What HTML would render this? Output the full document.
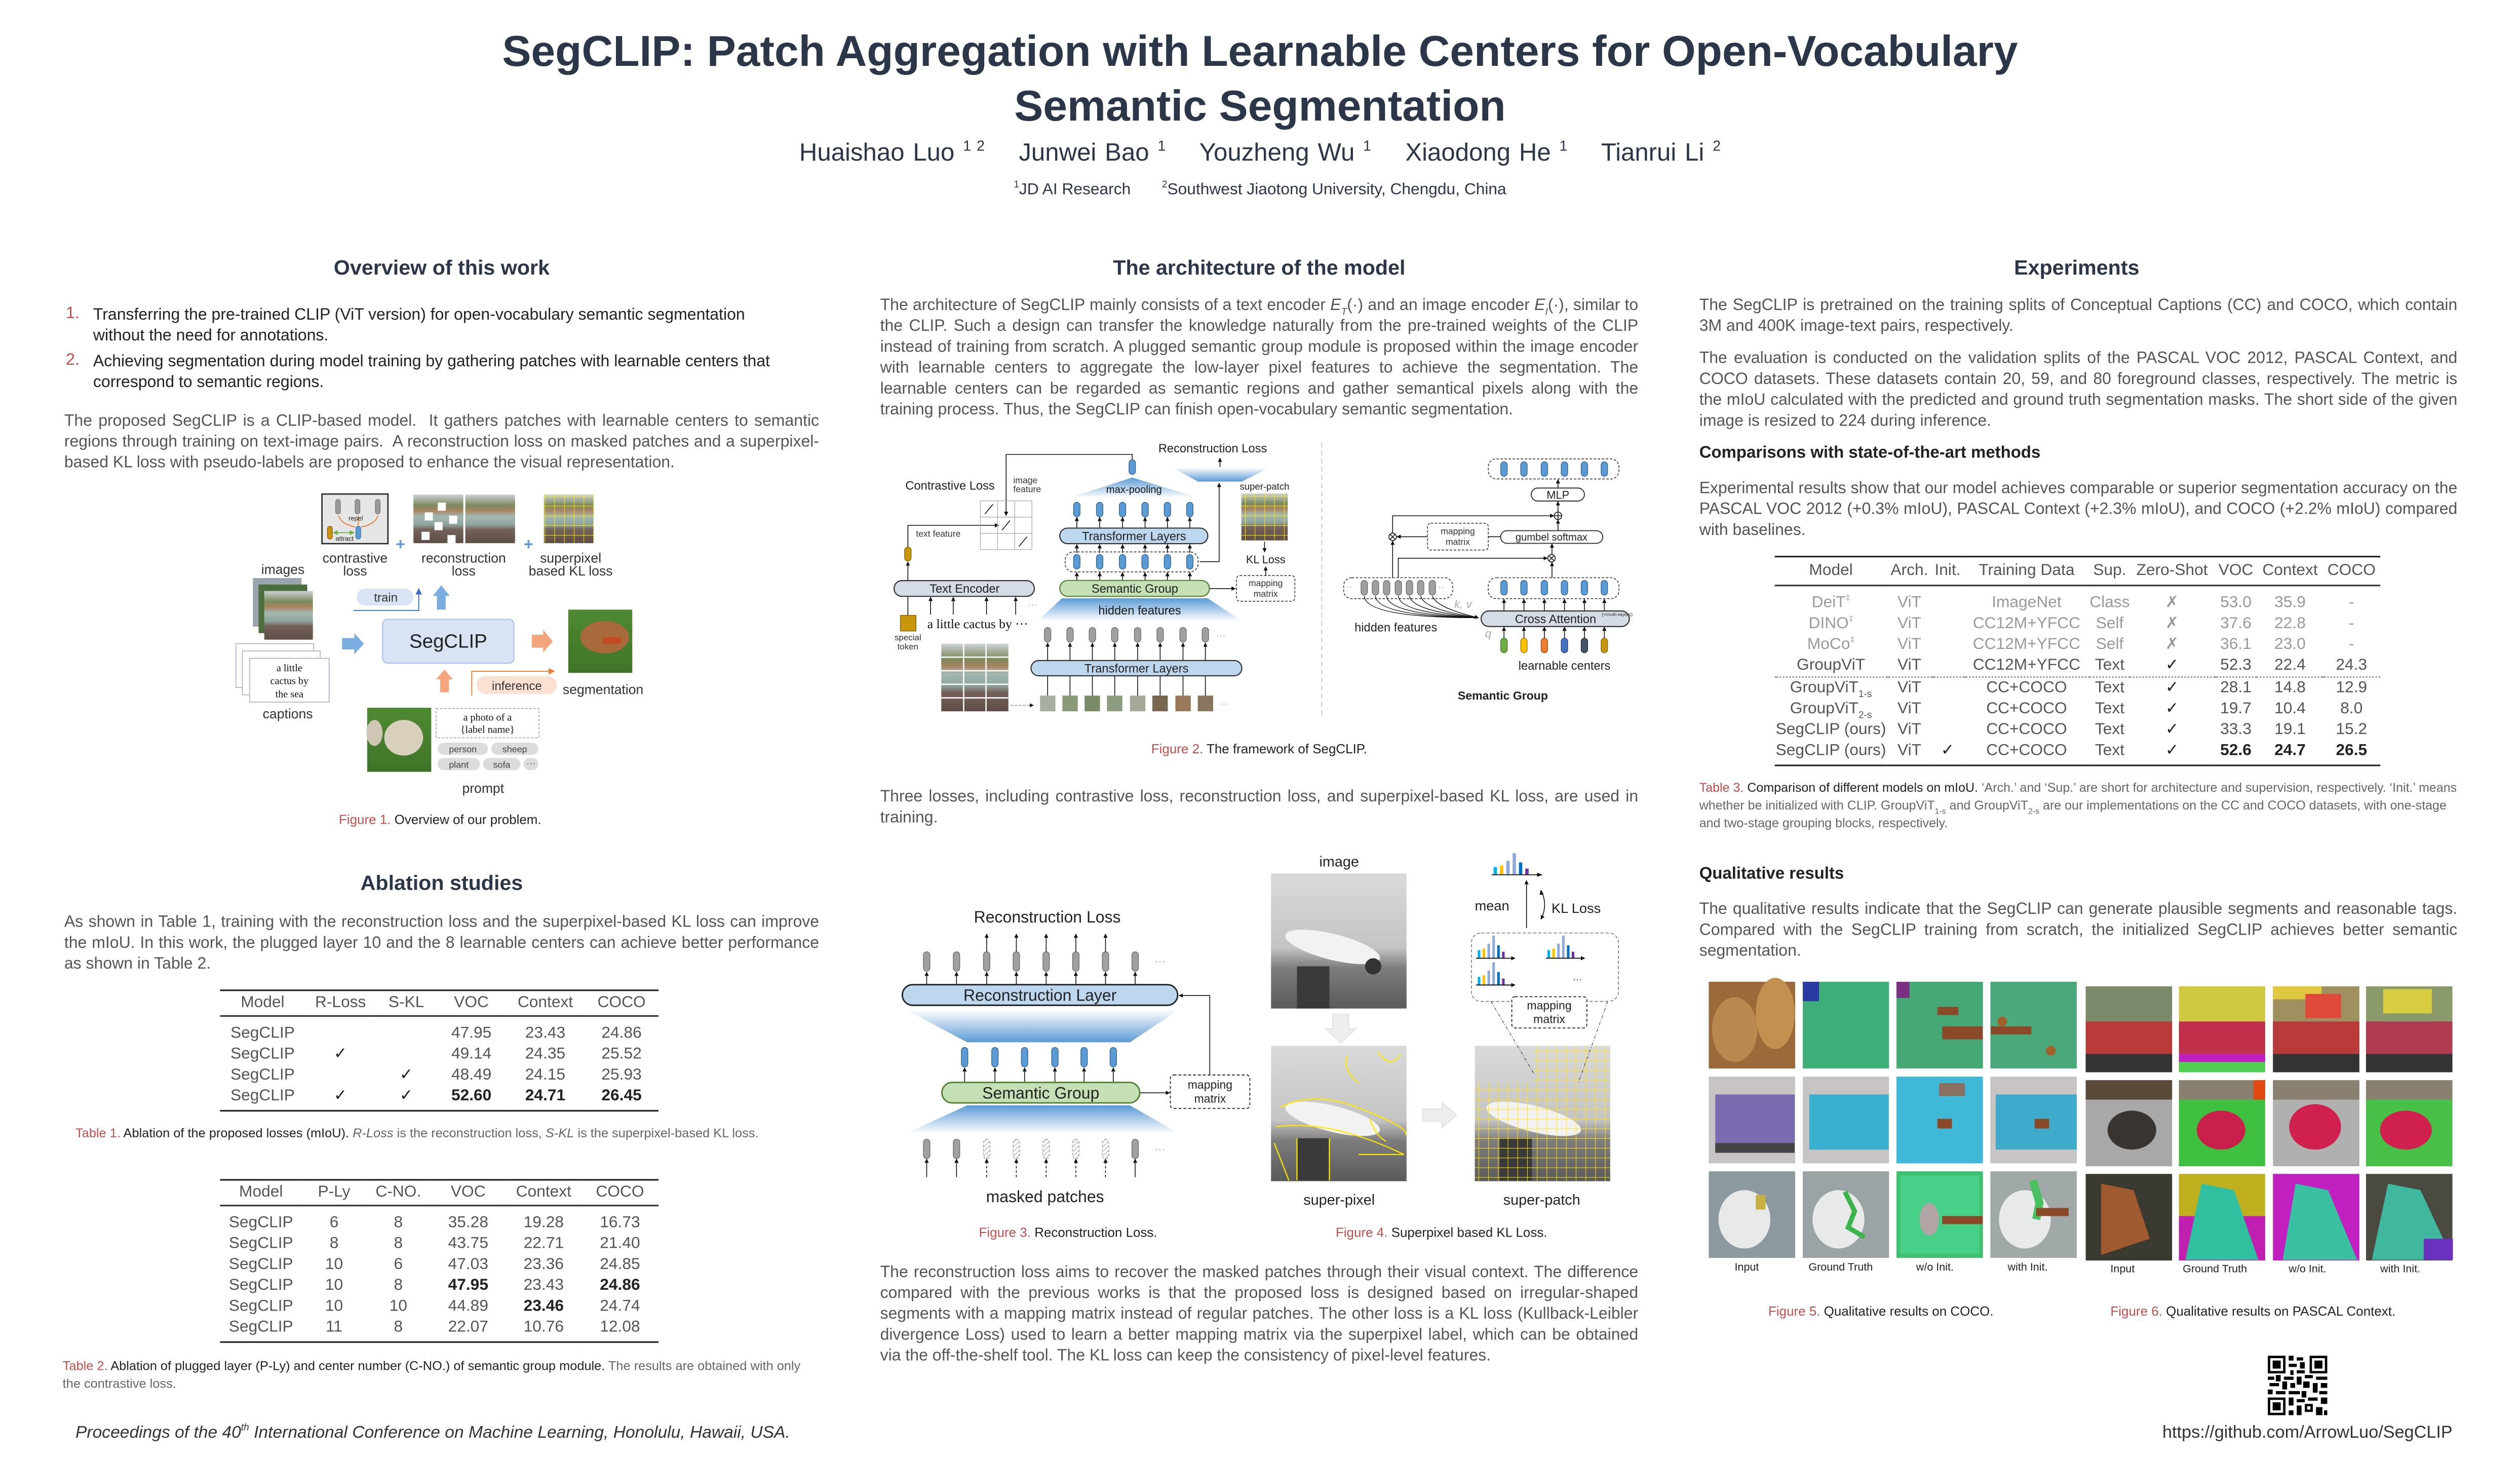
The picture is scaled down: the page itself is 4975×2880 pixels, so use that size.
<!DOCTYPE html>
<html><head><meta charset="utf-8"><style>
html,body{margin:0;padding:0;background:#fff;overflow:hidden;width:4975px;height:2880px}
#c{position:absolute;left:0;top:0;width:1569px;height:908px;transform:scale(3.1708);transform-origin:0 0;font-family:"Liberation Sans",sans-serif;color:#555}
sup,sub{line-height:0}
.a{position:absolute;white-space:nowrap}
.h{position:absolute;font-weight:bold;color:#2b3648;font-size:13px;text-align:center;width:400px;line-height:16px}
.p{position:absolute;font-size:10.1px;line-height:13.1px;color:#555;text-align:justify}
.cap{position:absolute;font-size:8.2px;line-height:11px;color:#666}
.r{color:#c0504d}.k{color:#222}
table{position:absolute;border-collapse:collapse;font-size:10px;color:#555}
td{text-align:center;padding:0;height:13px;line-height:13px;white-space:nowrap}
tr.hd td{height:15px;border-top:1.4px solid #222;border-bottom:1px solid #333}
tr.sp td{height:4px;line-height:4px}
tr.ep td{height:2px;line-height:2px;border-bottom:1.4px solid #222}
b.n{color:#222}
</style></head><body><div id="c">

<div class="a" style="left:0;width:1569px;text-align:center;top:15px;font-size:27px;font-weight:bold;color:#2b3648;line-height:34px">SegCLIP: Patch Aggregation with Learnable Centers for Open-Vocabulary<br>Semantic Segmentation</div>
<div class="a" style="left:0;width:1569px;text-align:center;top:87px;font-size:15.5px;color:#2b3648;word-spacing:1px">Huaishao Luo <sup style="font-size:9px">1 2</sup>&nbsp;&nbsp;&nbsp; Junwei Bao <sup style="font-size:9px">1</sup>&nbsp;&nbsp;&nbsp; Youzheng Wu <sup style="font-size:9px">1</sup>&nbsp;&nbsp;&nbsp; Xiaodong He <sup style="font-size:9px">1</sup>&nbsp;&nbsp;&nbsp; Tianrui Li <sup style="font-size:9px">2</sup></div>
<div class="a" style="left:0;width:1569px;text-align:center;top:113px;font-size:10px;color:#2b3648"><sup style="font-size:6px">1</sup>JD AI Research &nbsp;&nbsp;&nbsp;&nbsp;&nbsp; <sup style="font-size:6px">2</sup>Southwest Jiaotong University, Chengdu, China</div>

<div class="h" style="left:75px;top:159px">Overview of this work</div>
<div class="h" style="left:584px;top:159px">The architecture of the model</div>
<div class="h" style="left:1093px;top:159px">Experiments</div>

<!-- left column -->
<div class="a r" style="left:41px;top:190px;font-size:10.2px">1.</div>
<div class="p k" style="left:58px;top:189.5px;width:452px;text-align:left;color:#222">Transferring the pre-trained CLIP (ViT version) for open-vocabulary semantic segmentation<br>without the need for annotations.</div>
<div class="a r" style="left:41px;top:219px;font-size:10.2px">2.</div>
<div class="p k" style="left:58px;top:218.5px;width:452px;text-align:left;color:#222">Achieving segmentation during model training by gathering patches with learnable centers that<br>correspond to semantic regions.</div>
<div class="p" style="left:40px;top:255.5px;width:470px">The proposed SegCLIP is a CLIP-based model.&nbsp; It gathers patches with learnable centers to semantic regions through training on text-image pairs.&nbsp; A reconstruction loss on masked patches and a superpixel-based KL loss with pseudo-labels are proposed to enhance the visual representation.</div>
<div class="cap" style="left:0;width:548px;text-align:center;top:505px"><span class="r">Figure 1.</span> <span class="k">Overview of our problem.</span></div>

<div class="h" style="left:75px;top:542px">Ablation studies</div>
<div class="p" style="left:40px;top:567.5px;width:470px">As shown in Table 1, training with the reconstruction loss and the superpixel-based KL loss can improve the mIoU. In this work, the plugged layer 10 and the 8 learnable centers can achieve better performance as shown in Table 2.</div>

<table style="left:137px;top:616px;width:273px">
<colgroup><col style="width:53px"><col style="width:44px"><col style="width:38px"><col style="width:43px"><col style="width:49px"><col style="width:46px"></colgroup>
<tr class="hd"><td>Model</td><td>R-Loss</td><td>S-KL</td><td>VOC</td><td>Context</td><td>COCO</td></tr>
<tr class="sp"><td colspan="6"></td></tr>
<tr><td>SegCLIP</td><td></td><td></td><td>47.95</td><td>23.43</td><td>24.86</td></tr>
<tr><td>SegCLIP</td><td class="k">✓</td><td></td><td>49.14</td><td>24.35</td><td>25.52</td></tr>
<tr><td>SegCLIP</td><td></td><td class="k">✓</td><td>48.49</td><td>24.15</td><td>25.93</td></tr>
<tr><td>SegCLIP</td><td class="k">✓</td><td class="k">✓</td><td><b class="n">52.60</b></td><td><b class="n">24.71</b></td><td><b class="n">26.45</b></td></tr>
<tr class="ep"><td colspan="6"></td></tr>
</table>
<div class="cap" style="left:47px;top:700px;font-size:8px"><span class="r">Table 1.</span> <span class="k">Ablation of the proposed losses (mIoU).</span> <i>R-Loss</i> is the reconstruction loss, <i>S-KL</i> is the superpixel-based KL loss.</div>

<table style="left:137px;top:734px;width:273px">
<colgroup><col style="width:51px"><col style="width:40px"><col style="width:40px"><col style="width:47px"><col style="width:47px"><col style="width:48px"></colgroup>
<tr class="hd"><td>Model</td><td>P-Ly</td><td>C-NO.</td><td>VOC</td><td>Context</td><td>COCO</td></tr>
<tr class="sp"><td colspan="6"></td></tr>
<tr><td>SegCLIP</td><td>6</td><td>8</td><td>35.28</td><td>19.28</td><td>16.73</td></tr>
<tr><td>SegCLIP</td><td>8</td><td>8</td><td>43.75</td><td>22.71</td><td>21.40</td></tr>
<tr><td>SegCLIP</td><td>10</td><td>6</td><td>47.03</td><td>23.36</td><td>24.85</td></tr>
<tr><td>SegCLIP</td><td>10</td><td>8</td><td><b class="n">47.95</b></td><td>23.43</td><td><b class="n">24.86</b></td></tr>
<tr><td>SegCLIP</td><td>10</td><td>10</td><td>44.89</td><td><b class="n">23.46</b></td><td>24.74</td></tr>
<tr><td>SegCLIP</td><td>11</td><td>8</td><td>22.07</td><td>10.76</td><td>12.08</td></tr>
<tr class="ep"><td colspan="6"></td></tr>
</table>
<div class="cap" style="left:39px;top:845px;width:472px;font-size:8px"><span class="r">Table 2.</span> <span class="k">Ablation of plugged layer (P-Ly) and center number (C-NO.) of semantic group module.</span> The results are obtained with only the contrastive loss.</div>

<div class="a" style="left:47px;top:886px;font-size:10.6px;font-style:italic;color:#333">Proceedings of the 40<sup style="font-size:6px">th</sup> International Conference on Machine Learning, Honolulu, Hawaii, USA.</div>

<!-- middle column -->
<div class="p" style="left:548px;top:183.5px;width:472px">The architecture of SegCLIP mainly consists of a text encoder <i>E<sub style="font-size:6px">T</sub></i>(·) and an image encoder <i>E<sub style="font-size:6px">I</sub></i>(·), similar to the CLIP. Such a design can transfer the knowledge naturally from the pre-trained weights of the CLIP instead of training from scratch. A plugged semantic group module is proposed within the image encoder with learnable centers to aggregate the low-layer pixel features to achieve the segmentation. The learnable centers can be regarded as semantic regions and gather semantical pixels along with the training process. Thus, the SegCLIP can finish open-vocabulary semantic segmentation.</div>
<div class="cap" style="left:548px;width:472px;text-align:center;top:461px"><span class="r">Figure 2.</span> <span class="k">The framework of SegCLIP.</span></div>
<div class="p" style="left:548px;top:489.5px;width:472px">Three losses, including contrastive loss, reconstruction loss, and superpixel-based KL loss, are used in training.</div>
<div class="cap" style="left:560px;width:210px;text-align:center;top:762px"><span class="r">Figure 3.</span> <span class="k">Reconstruction Loss.</span></div>
<div class="cap" style="left:790px;width:215px;text-align:center;top:762px"><span class="r">Figure 4.</span> <span class="k">Superpixel based KL Loss.</span></div>
<div class="p" style="left:548px;top:785.5px;width:472px">The reconstruction loss aims to recover the masked patches through their visual context. The difference compared with the previous works is that the proposed loss is designed based on irregular-shaped segments with a mapping matrix instead of regular patches. The other loss is a KL loss (Kullback-Leibler divergence Loss) used to learn a better mapping matrix via the superpixel label, which can be obtained via the off-the-shelf tool. The KL loss can keep the consistency of pixel-level features.</div>

<!-- right column -->
<div class="p" style="left:1058px;top:183.5px;width:472px">The SegCLIP is pretrained on the training splits of Conceptual Captions (CC) and COCO, which contain 3M and 400K image-text pairs, respectively.</div>
<div class="p" style="left:1058px;top:216.5px;width:472px">The evaluation is conducted on the validation splits of the PASCAL VOC 2012, PASCAL Context, and COCO datasets. These datasets contain 20, 59, and 80 foreground classes, respectively. The metric is the mIoU calculated with the predicted and ground truth segmentation masks. The short side of the given image is resized to 224 during inference.</div>
<div class="a" style="left:1058px;top:277px;font-size:10.4px;font-weight:bold;color:#222">Comparisons with state-of-the-art methods</div>
<div class="p" style="left:1058px;top:297.5px;width:472px">Experimental results show that our model achieves comparable or superior segmentation accuracy on the PASCAL VOC 2012 (+0.3% mIoU), PASCAL Context (+2.3% mIoU), and COCO (+2.2% mIoU) compared with baselines.</div>

<table style="left:1105px;top:346px;width:377px">
<colgroup><col style="width:70px"><col style="width:28px"><col style="width:20px"><col style="width:79px"><col style="width:23px"><col style="width:53px"><col style="width:27px"><col style="width:41px"><col style="width:36px"></colgroup>
<tr class="hd"><td style="height:17px">Model</td><td>Arch.</td><td>Init.</td><td>Training Data</td><td>Sup.</td><td>Zero-Shot</td><td>VOC</td><td>Context</td><td>COCO</td></tr>
<tr class="sp"><td colspan="9"></td></tr>
<tr style="color:#999"><td>DeiT<sup style="font-size:5px">‡</sup></td><td>ViT</td><td></td><td>ImageNet</td><td>Class</td><td>✗</td><td>53.0</td><td>35.9</td><td>-</td></tr>
<tr style="color:#999"><td>DINO<sup style="font-size:5px">‡</sup></td><td>ViT</td><td></td><td>CC12M+YFCC</td><td>Self</td><td>✗</td><td>37.6</td><td>22.8</td><td>-</td></tr>
<tr style="color:#999"><td>MoCo<sup style="font-size:5px">‡</sup></td><td>ViT</td><td></td><td>CC12M+YFCC</td><td>Self</td><td>✗</td><td>36.1</td><td>23.0</td><td>-</td></tr>
<tr style="border-bottom:1px dotted #999"><td>GroupViT</td><td>ViT</td><td></td><td>CC12M+YFCC</td><td>Text</td><td class="k">✓</td><td>52.3</td><td>22.4</td><td>24.3</td></tr>
<tr><td>GroupViT<sub style="font-size:6px">1-s</sub></td><td>ViT</td><td></td><td>CC+COCO</td><td>Text</td><td class="k">✓</td><td>28.1</td><td>14.8</td><td>12.9</td></tr>
<tr><td>GroupViT<sub style="font-size:6px">2-s</sub></td><td>ViT</td><td></td><td>CC+COCO</td><td>Text</td><td class="k">✓</td><td>19.7</td><td>10.4</td><td>8.0</td></tr>
<tr><td>SegCLIP (ours)</td><td>ViT</td><td></td><td>CC+COCO</td><td>Text</td><td class="k">✓</td><td>33.3</td><td>19.1</td><td>15.2</td></tr>
<tr><td>SegCLIP (ours)</td><td>ViT</td><td class="k">✓</td><td>CC+COCO</td><td>Text</td><td class="k">✓</td><td><b class="n">52.6</b></td><td><b class="n">24.7</b></td><td><b class="n">26.5</b></td></tr>
<tr class="ep"><td colspan="9"></td></tr>
</table>
<div class="cap" style="left:1058px;top:484.5px;width:472px;font-size:7.9px"><span class="r">Table 3.</span> <span class="k">Comparison of different models on mIoU.</span> ‘Arch.’ and ‘Sup.’ are short for architecture and supervision, respectively. ‘Init.’ means whether be initialized with CLIP. GroupViT<sub style="font-size:5px">1-s</sub> and GroupViT<sub style="font-size:5px">2-s</sub> are our implementations on the CC and COCO datasets, with one-stage and two-stage grouping blocks, respectively.</div>
<div class="a" style="left:1058px;top:539px;font-size:10.4px;font-weight:bold;color:#222">Qualitative results</div>
<div class="p" style="left:1058px;top:559.5px;width:472px">The qualitative results indicate that the SegCLIP can generate plausible segments and reasonable tags. Compared with the SegCLIP training from scratch, the initialized SegCLIP achieves better semantic segmentation.</div>

<div class="a" style="top:786px;font-size:6.8px;color:#222;left:1080px">Input</div>
<div class="a" style="top:786px;font-size:6.8px;color:#222;left:1126px">Ground Truth</div>
<div class="a" style="top:786px;font-size:6.8px;color:#222;left:1193px">w/o Init.</div>
<div class="a" style="top:786px;font-size:6.8px;color:#222;left:1250px">with Init.</div>
<div class="a" style="top:787px;font-size:6.8px;color:#222;left:1314px">Input</div>
<div class="a" style="top:787px;font-size:6.8px;color:#222;left:1359px">Ground Truth</div>
<div class="a" style="top:787px;font-size:6.8px;color:#222;left:1425px">w/o Init.</div>
<div class="a" style="top:787px;font-size:6.8px;color:#222;left:1482px">with Init.</div>
<div class="cap" style="left:1101px;top:811px;font-size:8.2px"><span class="r">Figure 5.</span> <span class="k">Qualitative results on COCO.</span></div>
<div class="cap" style="left:1314px;top:811px;font-size:8.2px"><span class="r">Figure 6.</span> <span class="k">Qualitative results on PASCAL Context.</span></div>
<div class="a" style="right:42px;top:886px;font-size:10.8px;color:#333">https://github.com/ArrowLuo/SegCLIP</div>

<svg style="position:absolute;left:0;top:0" width="1569" height="908" viewBox="0 0 1569 908" font-family="Liberation Sans, sans-serif">
<defs>
<marker id="ah" viewBox="0 0 6 6" refX="5.5" refY="3" markerWidth="2.6" markerHeight="2.6" markerUnits="userSpaceOnUse" orient="auto"><path d="M0,0L6,3L0,6z" fill="#111"/></marker>
<marker id="ab" viewBox="0 0 6 6" refX="5.5" refY="3" markerWidth="4" markerHeight="4" markerUnits="userSpaceOnUse" orient="auto"><path d="M0,0L6,3L0,6z" fill="#3d6fc4"/></marker>
<marker id="ao" viewBox="0 0 6 6" refX="5.5" refY="3" markerWidth="4" markerHeight="4" markerUnits="userSpaceOnUse" orient="auto"><path d="M0,0L6,3L0,6z" fill="#ed7d31"/></marker>
<marker id="ag" viewBox="0 0 6 6" refX="5.5" refY="3" markerWidth="3" markerHeight="3" markerUnits="userSpaceOnUse" orient="auto-start-reverse"><path d="M0,0L6,3L0,6z" fill="#70ad47"/></marker>
<linearGradient id="gD" x1="0" y1="0" x2="0" y2="1"><stop offset="0" stop-color="#5b9bd5"/><stop offset="1" stop-color="#5b9bd5" stop-opacity="0"/></linearGradient>
<linearGradient id="gU" x1="0" y1="0" x2="0" y2="1"><stop offset="0" stop-color="#5b9bd5" stop-opacity="0"/><stop offset="1" stop-color="#5b9bd5"/></linearGradient>
<linearGradient id="sea" x1="0" y1="0" x2="0" y2="1"><stop offset="0" stop-color="#cdd2d6"/><stop offset=".22" stop-color="#7b8a5c"/><stop offset=".33" stop-color="#a88462"/><stop offset=".45" stop-color="#a3b8b0"/><stop offset=".62" stop-color="#8ea59e"/><stop offset=".72" stop-color="#75625a"/><stop offset="1" stop-color="#5d4e46"/></linearGradient>
<linearGradient id="pl" x1="0" y1="0" x2="0" y2="1"><stop offset="0" stop-color="#dadada"/><stop offset=".55" stop-color="#c4c4c4"/><stop offset=".7" stop-color="#7d7d7d"/><stop offset="1" stop-color="#5a5a5a"/></linearGradient>
<linearGradient id="grs" x1="0" y1="0" x2="0" y2="1"><stop offset="0" stop-color="#4e8a32"/><stop offset="1" stop-color="#3f7428"/></linearGradient>
<pattern id="ygrid" width="6" height="6" patternUnits="userSpaceOnUse"><path d="M0,0H6M0,0V6" stroke="#ffe800" stroke-width=".6" fill="none"/></pattern>
<pattern id="hatch" width="2" height="2" patternUnits="userSpaceOnUse" patternTransform="rotate(45)"><path d="M0,0V2" stroke="#999" stroke-width=".6"/></pattern>
<rect id="tb" x="-2" y="0" width="4" height="9" rx="2" fill="#5b9bd5" stroke="#2f5d8a" stroke-width=".4"/>
<rect id="tg" x="-2" y="0" width="4" height="9" rx="2" fill="#a0a0a0" stroke="#666" stroke-width=".4"/>
<rect id="tb12" x="-2" y="0" width="4" height="12" rx="2" fill="#5b9bd5" stroke="#2f5d8a" stroke-width=".4"/>
<rect id="tg12" x="-2" y="0" width="4" height="12" rx="2" fill="#a0a0a0" stroke="#666" stroke-width=".4"/>
<rect id="th12" x="-2" y="0" width="4" height="12" rx="2" fill="url(#hatch)" stroke="#999" stroke-width=".4" stroke-dasharray="1.5,1"/>
<g id="hist"><rect x="1" y="-5" width="1.6" height="5" fill="#00b0f0"/><rect x="4" y="-6" width="1.6" height="6" fill="#ffc000"/><rect x="7" y="-9" width="1.6" height="9" fill="#8faadc"/><rect x="10" y="-14" width="1.6" height="14" fill="#8faadc"/><rect x="13" y="-8" width="1.6" height="8" fill="#0070c0"/><rect x="16" y="-4" width="1.6" height="4" fill="#7030a0"/><line x1="0" y1="0" x2="24" y2="0" stroke="#111" stroke-width=".6" marker-end="url(#ah)"/></g>
</defs>

<g transform="scale(1.0094)">
<!-- ===== FIGURE 1 ===== -->
<rect x="198.6" y="304.7" width="40.7" height="30.6" fill="#e6e6e6" stroke="#222" stroke-width=".8"/>
<rect x="207" y="308" width="3" height="9" rx="1.5" fill="#999" stroke="#666" stroke-width=".3"/>
<rect x="219" y="308" width="3" height="9" rx="1.5" fill="#999" stroke="#666" stroke-width=".3"/>
<rect x="231.5" y="308" width="3" height="9" rx="1.5" fill="#999" stroke="#666" stroke-width=".3"/>
<rect x="219.5" y="324.5" width="3" height="8" rx="1.5" fill="#5b9bd5" stroke="#2f5d8a" stroke-width=".3"/>
<rect x="202" y="324.5" width="3" height="8" rx="1.5" fill="#c8960c" stroke="#7f3f00" stroke-width=".3"/>
<path d="M219,325 Q210,323 209,318 M221,324 V318 M223,325 Q232,323 233,318" stroke="#ed7d31" stroke-width=".6" fill="none"/>
<line x1="205.5" y1="328.5" x2="218.5" y2="328.5" stroke="#70ad47" stroke-width=".6" marker-end="url(#ag)" marker-start="url(#ag)"/>
<text x="215" y="321" font-size="4" fill="#222">repel</text><text x="207" y="333.5" font-size="4" fill="#222">attract</text>
<text x="247" y="339" font-size="10" font-weight="bold" fill="#5b9bd5" text-anchor="middle">+</text>
<text x="326" y="339" font-size="10" font-weight="bold" fill="#5b9bd5" text-anchor="middle">+</text>
<rect x="255" y="305" width="30.8" height="30" fill="url(#sea)"/>
<rect x="287" y="305" width="30.7" height="30" fill="url(#sea)"/>
<rect x="262" y="316" width="5" height="5" fill="#fff"/><rect x="270" y="310" width="5" height="5" fill="#fff"/><rect x="277" y="318" width="5" height="5" fill="#fff"/><rect x="268" y="322" width="5" height="5" fill="#fff"/><rect x="260" y="328" width="5" height="5" fill="#fff"/><rect x="276" y="330" width="5" height="5" fill="#fff"/>
<rect x="335.5" y="305" width="30.7" height="30" fill="url(#sea)"/>
<rect x="335.5" y="305" width="30.7" height="30" fill="url(#ygrid)"/>
<g font-size="8.3" fill="#333" text-anchor="middle">
<text x="219" y="347">contrastive</text><text x="219" y="355">loss</text>
<text x="286" y="347">reconstruction</text><text x="286" y="355">loss</text>
<text x="352" y="347">superpixel</text><text x="352" y="355">based KL loss</text>
<text x="174.5" y="354">images</text><text x="177.5" y="443">captions</text>
<text x="372" y="428">segmentation</text><text x="298" y="489">prompt</text>
</g>
<rect x="156" y="356.5" width="30" height="30" fill="#9aa4ac"/><rect x="159.5" y="360.5" width="30" height="30" fill="#4c6e3c"/><rect x="163" y="364.5" width="30" height="30" fill="url(#sea)"/>
<rect x="145.5" y="397" width="48" height="27" fill="#fff" stroke="#aac" stroke-width=".5"/><rect x="149.5" y="401.5" width="48" height="27" fill="#fff" stroke="#aac" stroke-width=".5"/><rect x="154" y="406" width="49" height="27" fill="#fff" stroke="#aac" stroke-width=".5"/>
<g font-family="Liberation Serif, serif" font-size="6.3" fill="#111" text-anchor="middle"><text x="178.5" y="414">a little</text><text x="178.5" y="422">cactus by</text><text x="178.5" y="430">the sea</text></g>
<path d="M211,393.5h7.5v-3l6,6.5l-6,6.5v-3h-7.5z" fill="#7aaee0"/>
<rect x="220" y="363" width="35" height="10.5" rx="5.2" fill="#dae3f3"/><text x="238" y="371" font-size="7.5" fill="#333" text-anchor="middle">train</text>
<path d="M218,376.5H258.3V363" stroke="#3d6fc4" stroke-width=".6" fill="none" marker-end="url(#ab)"/>
<path d="M269.5,376v-8.5h-2.5l5.2,-6.5l5.2,6.5h-2.5v8.5z" fill="#7aaee0"/>
<rect x="236" y="382" width="81" height="27" rx="3" fill="#dae3f3" stroke="#a9c4ea" stroke-width=".7"/>
<text x="276.5" y="399.5" font-size="12" fill="#222" text-anchor="middle">SegCLIP</text>
<path d="M328,391.5h7v-3l6,7l-6,7v-3h-7z" fill="#f4a57c"/>
<rect x="350.5" y="376" width="39.5" height="39" fill="url(#grs)"/>
<ellipse cx="373" cy="393" rx="15" ry="10" fill="#a86a3a"/><rect x="372" y="393" width="11" height="4" fill="#c54a20"/>
<rect x="294" y="417" width="49.6" height="11" rx="5.5" fill="#fbe1d3"/><text x="318.8" y="425.5" font-size="7.5" fill="#333" text-anchor="middle">inference</text>
<path d="M291,429V414H342" stroke="#ed7d31" stroke-width=".6" fill="none" marker-end="url(#ao)"/>
<path d="M271.5,427v-8h-2.5l5.2,-6l5.2,6h-2.5v8z" fill="#f4a57c"/>
<rect x="226.5" y="436.5" width="39.5" height="39.5" fill="url(#grs)"/>
<ellipse cx="249" cy="455" rx="12" ry="11" fill="#d8d0bc"/><ellipse cx="231" cy="452" rx="5" ry="8" fill="#cfc7b3"/>
<rect x="269" y="437" width="63.5" height="18" fill="none" stroke="#8fa6c8" stroke-width=".5" stroke-dasharray="1.5,1"/>
<g font-family="Liberation Serif, serif" font-size="6.3" fill="#111" text-anchor="middle"><text x="300.7" y="444.5">a photo of a</text><text x="300.7" y="452">{label name}</text></g>
<g fill="#dcdcdc"><rect x="270" y="458" width="31" height="7.5" rx="3.7"/><rect x="303" y="458" width="29" height="7.5" rx="3.7"/><rect x="270" y="467.5" width="26" height="7.5" rx="3.7"/><rect x="298" y="467.5" width="23" height="7.5" rx="3.7"/><rect x="323" y="467.5" width="9" height="7.5" rx="3.7"/></g>
<g font-size="5.6" fill="#444" text-anchor="middle"><text x="285.5" y="464">person</text><text x="317.5" y="464">sheep</text><text x="283" y="473.5">plant</text><text x="309.5" y="473.5">sofa</text><text x="327.5" y="472.5">···</text></g>

<!-- ===== FIGURE 2 ===== -->
<g font-size="7.4" fill="#222" text-anchor="middle">
<text x="748" y="279">Reconstruction Loss</text>
<text x="586" y="302">Contrastive Loss</text>
<text x="699.5" y="304" font-size="6.3">max-pooling</text>
<text x="703" y="379">hidden features</text>
<text x="780.7" y="347.5" font-size="6.8">KL Loss</text>
<text x="780" y="302" font-size="5.8">super-patch</text>
<text x="861" y="389.5">hidden features</text>
<text x="965" y="413">learnable centers</text>
<text x="927" y="431.5" font-weight="bold" font-size="7.2">Semantic Group</text>
</g>
<g font-size="5.5" fill="#333"><text x="625" y="298">image</text><text x="625" y="303.5">feature</text><text x="565" y="331">text feature</text>
<text x="560" y="395" text-anchor="middle" font-size="5.3">special</text><text x="560" y="400.5" text-anchor="middle" font-size="5.3">token</text>
<text x="780.7" y="361.5" text-anchor="middle">mapping</text><text x="780.7" y="368" text-anchor="middle">matrix</text>
<text x="899.2" y="329.5" text-anchor="middle">mapping</text><text x="899.2" y="336" text-anchor="middle">matrix</text></g>
<text x="572" y="387.5" font-family="Liberation Serif, serif" font-size="8" fill="#111">a little cactus by ···</text>
<g font-size="6" fill="#aaa"><text x="634" y="375">···</text><text x="750" y="394">···</text><text x="752" y="436">···</text><text x="916" y="393" font-style="italic" font-size="7">q</text><text x="897" y="375" font-style="italic" font-size="7">k, v</text><text x="830" y="364">··</text><text x="887" y="364">··</text></g>
<polygon points="723,288.4 783,288.4 766,297 739,297" fill="url(#gU)"/>
<line x1="752.5" y1="288" x2="752.5" y2="282.5" stroke="#111" stroke-width=".5" marker-end="url(#ah)"/>
<path d="M740,346.4H752V298" stroke="#111" stroke-width=".5" fill="none" marker-end="url(#ah)"/>
<use href="#tb" x="698.4" y="283.6"/>
<path d="M698.4,283.5V280.3H620.6V318" stroke="#111" stroke-width=".5" fill="none" marker-end="url(#ah)"/>
<polygon points="698.4,294.5 659.7,307 739.3,307" fill="url(#gD)"/>
<text x="699.5" y="304" font-size="6.3" fill="#222" text-anchor="middle">max-pooling</text>
<g stroke="#111" stroke-width=".5" marker-end="url(#ah)">
<line x1="664.2" y1="325.7" x2="664.2" y2="319"/><line x1="678.3" y1="325.7" x2="678.3" y2="319"/><line x1="692.4" y1="325.7" x2="692.4" y2="319"/><line x1="706.3" y1="325.7" x2="706.3" y2="319"/><line x1="720.1" y1="325.7" x2="720.1" y2="319"/><line x1="733.9" y1="325.7" x2="733.9" y2="319"/>
<line x1="664.2" y1="341" x2="664.2" y2="335.8"/><line x1="678.3" y1="341" x2="678.3" y2="335.8"/><line x1="692.4" y1="341" x2="692.4" y2="335.8"/><line x1="706.3" y1="341" x2="706.3" y2="335.8"/><line x1="720.1" y1="341" x2="720.1" y2="335.8"/><line x1="733.9" y1="341" x2="733.9" y2="335.8"/>
<line x1="664.2" y1="358" x2="664.2" y2="353"/><line x1="678.3" y1="358" x2="678.3" y2="353"/><line x1="692.4" y1="358" x2="692.4" y2="353"/><line x1="706.3" y1="358" x2="706.3" y2="353"/><line x1="720.1" y1="358" x2="720.1" y2="353"/><line x1="733.9" y1="358" x2="733.9" y2="353"/>
<line x1="646.2" y1="407.4" x2="646.2" y2="396.5"/><line x1="660" y1="407.4" x2="660" y2="396.5"/><line x1="673.8" y1="407.4" x2="673.8" y2="396.5"/><line x1="687.6" y1="407.4" x2="687.6" y2="396.5"/><line x1="701.7" y1="407.4" x2="701.7" y2="396.5"/><line x1="715.6" y1="407.4" x2="715.6" y2="396.5"/><line x1="729.7" y1="407.4" x2="729.7" y2="396.5"/><line x1="743.5" y1="407.4" x2="743.5" y2="396.5"/>
<line x1="746" y1="363" x2="762" y2="363"/>
<line x1="780.7" y1="355" x2="780.7" y2="349.5"/>
<line x1="780" y1="334" x2="780" y2="340.5"/>
<line x1="560" y1="358" x2="560" y2="346.5"/>
<path d="M560,337.3V324H616" fill="none"/>
<line x1="574" y1="379" x2="574" y2="368.3"/><line x1="588" y1="379" x2="588" y2="368.3"/><line x1="608.5" y1="379" x2="608.5" y2="368.3"/><line x1="626.5" y1="379" x2="626.5" y2="368.3"/>
</g>
<g stroke="#111" stroke-width=".5"><line x1="646.2" y1="429" x2="646.2" y2="417"/><line x1="660" y1="429" x2="660" y2="417"/><line x1="673.8" y1="429" x2="673.8" y2="417"/><line x1="687.6" y1="429" x2="687.6" y2="417"/><line x1="701.7" y1="429" x2="701.7" y2="417"/><line x1="715.6" y1="429" x2="715.6" y2="417"/><line x1="729.7" y1="429" x2="729.7" y2="417"/><line x1="743.5" y1="429" x2="743.5" y2="417"/><line x1="560" y1="379.5" x2="560" y2="368"/></g>
<use href="#tb" x="664.2" y="309.8"/><use href="#tb" x="678.3" y="309.8"/><use href="#tb" x="692.4" y="309.8"/><use href="#tb" x="706.3" y="309.8"/><use href="#tb" x="720.1" y="309.8"/><use href="#tb" x="733.9" y="309.8"/>
<rect x="653.7" y="325.7" width="91.3" height="9.6" rx="4.8" fill="#bdd7ee" stroke="#333" stroke-width=".7"/>
<text x="699.5" y="333.2" font-size="7.4" fill="#222" text-anchor="middle">Transformer Layers</text>
<rect x="657" y="340.4" width="82" height="12.3" rx="5" fill="none" stroke="#333" stroke-width=".5" stroke-dasharray="1.5,1"/>
<use href="#tb" x="664.2" y="342"/><use href="#tb" x="678.3" y="342"/><use href="#tb" x="692.4" y="342"/><use href="#tb" x="706.3" y="342"/><use href="#tb" x="720.1" y="342"/><use href="#tb" x="733.9" y="342"/>
<rect x="653.7" y="358" width="92.3" height="9.8" rx="4.9" fill="#c5e0b4" stroke="#548235" stroke-width=".7"/>
<text x="700" y="365.6" font-size="7.4" fill="#222" text-anchor="middle">Semantic Group</text>
<rect x="762.7" y="355" width="36" height="15.8" rx="2" fill="none" stroke="#333" stroke-width=".5" stroke-dasharray="1.5,1"/>
<rect x="765.7" y="304.3" width="28.6" height="29" fill="url(#sea)"/><rect x="765.7" y="304.3" width="28.6" height="29" fill="url(#ygrid)"/>
<polygon points="655,369 745,369 766,383 640,383" fill="url(#gD)"/>
<text x="703" y="379" font-size="7.4" fill="#222" text-anchor="middle">hidden features</text>
<use href="#tg" x="646.2" y="387"/><use href="#tg" x="660" y="387"/><use href="#tg" x="673.8" y="387"/><use href="#tg" x="687.6" y="387"/><use href="#tg" x="701.7" y="387"/><use href="#tg" x="715.6" y="387"/><use href="#tg" x="729.7" y="387"/><use href="#tg" x="743.5" y="387"/>
<rect x="636" y="407.4" width="130" height="9.4" rx="4.7" fill="#bdd7ee" stroke="#333" stroke-width=".7"/>
<text x="701" y="414.7" font-size="7.4" fill="#222" text-anchor="middle">Transformer Layers</text>
<g><rect x="641.5" y="429" width="9.5" height="9.7" fill="#a7b0a0"/><rect x="655.3" y="429" width="9.5" height="9.7" fill="#8a9a78"/><rect x="669" y="429" width="9.5" height="9.7" fill="#7a8c66"/><rect x="682.8" y="429" width="9.5" height="9.7" fill="#8e9c80"/><rect x="697" y="429" width="9.5" height="9.7" fill="#a8a898"/><rect x="710.8" y="429" width="9.5" height="9.7" fill="#7a6650"/><rect x="725" y="429" width="9.5" height="9.7" fill="#9a7a58"/><rect x="738.8" y="429" width="9.5" height="9.7" fill="#88765e"/></g>
<rect x="580.6" y="397" width="41.4" height="41.7" fill="url(#sea)"/>
<g stroke="#fff" stroke-width=".8"><line x1="594.4" y1="397" x2="594.4" y2="438.7"/><line x1="608.2" y1="397" x2="608.2" y2="438.7"/><line x1="580.6" y1="405.3" x2="622" y2="405.3"/><line x1="580.6" y1="413.7" x2="622" y2="413.7"/><line x1="580.6" y1="422" x2="622" y2="422"/><line x1="580.6" y1="430.4" x2="622" y2="430.4"/></g>
<line x1="623.5" y1="435" x2="637.5" y2="435" stroke="#888" stroke-width=".5" stroke-dasharray="1.5,1" marker-end="url(#ah)"/>
<rect x="551.5" y="358.1" width="86.5" height="9.7" rx="4.8" fill="#d6dce5" stroke="#333" stroke-width=".7"/>
<text x="595" y="365.6" font-size="7.4" fill="#222" text-anchor="middle">Text Encoder</text>
<rect x="558" y="337.4" width="4" height="8.6" rx="2" fill="#c8960c" stroke="#7f5f00" stroke-width=".4"/>
<rect x="555.4" y="379.5" width="9.6" height="9.7" fill="#c8960c" stroke="#7f5f00" stroke-width=".4"/>
<g stroke="#aaa" stroke-width=".4" fill="none"><rect x="604.7" y="308.9" width="31.8" height="30"/><line x1="615.3" y1="308.9" x2="615.3" y2="338.9"/><line x1="625.9" y1="308.9" x2="625.9" y2="338.9"/><line x1="604.7" y1="318.9" x2="636.5" y2="318.9"/><line x1="604.7" y1="328.9" x2="636.5" y2="328.9"/></g>
<g stroke="#111" stroke-width=".5"><line x1="607.5" y1="317" x2="612.5" y2="311"/><line x1="618" y1="327" x2="623" y2="321"/><line x1="628.5" y1="337" x2="633.5" y2="331"/></g>
<line x1="815.3" y1="273" x2="815.3" y2="442" stroke="#aaa" stroke-width=".4" stroke-dasharray="3,2"/>
<!-- right semantic group -->
<rect x="918" y="283" width="80.6" height="12.4" rx="5" fill="none" stroke="#333" stroke-width=".5" stroke-dasharray="1.5,1"/>
<use href="#tb" x="927.7" y="284.8"/><use href="#tb" x="940" y="284.8"/><use href="#tb" x="952.6" y="284.8"/><use href="#tb" x="965" y="284.8"/><use href="#tb" x="977.3" y="284.8"/><use href="#tb" x="989.6" y="284.8"/>
<rect x="944.5" y="301" width="32.8" height="8" rx="4" fill="#fff" stroke="#333" stroke-width=".6"/>
<text x="961" y="307.6" font-size="6.8" fill="#222" text-anchor="middle">MLP</text>
<circle cx="961" cy="318.1" r="2.3" fill="#fff" stroke="#111" stroke-width=".5"/><path d="M958.7,318.1h4.6M961,315.8v4.6" stroke="#111" stroke-width=".5"/>
<rect x="925.6" y="327.3" width="63" height="7.8" rx="3.9" fill="#fff" stroke="#333" stroke-width=".6"/>
<text x="957" y="333.4" font-size="6.3" fill="#222" text-anchor="middle">gumbel softmax</text>
<rect x="880.5" y="322.7" width="37.5" height="16.5" rx="2" fill="none" stroke="#333" stroke-width=".5" stroke-dasharray="1.5,1"/>
<circle cx="859" cy="331.1" r="2.3" fill="#fff" stroke="#111" stroke-width=".5"/><path d="M857.4,329.5l3.2,3.2M860.6,329.5l-3.2,3.2" stroke="#111" stroke-width=".5"/>
<circle cx="957" cy="344.3" r="2.3" fill="#fff" stroke="#111" stroke-width=".5"/><path d="M955.4,342.7l3.2,3.2M958.6,342.7l-3.2,3.2" stroke="#111" stroke-width=".5"/>
<g stroke="#111" stroke-width=".5" fill="none" marker-end="url(#ah)">
<line x1="961" y1="301" x2="961" y2="295.8"/><line x1="961" y1="315.8" x2="961" y2="309.3"/><line x1="961" y1="327.3" x2="961" y2="320.6"/>
<line x1="880.5" y1="331" x2="861.6" y2="331"/>
<path d="M859,328.8V318.1H958.5"/>
<line x1="859" y1="356.3" x2="859" y2="333.6"/>
<path d="M862.5,356.3V344.3H954.5"/>
<line x1="957.3" y1="356.3" x2="957.3" y2="346.8"/><line x1="957.3" y1="341.9" x2="957.3" y2="335.4"/>
<line x1="927.7" y1="376.8" x2="927.7" y2="369.5"/><line x1="940" y1="376.8" x2="940" y2="369.5"/><line x1="952.6" y1="376.8" x2="952.6" y2="369.5"/><line x1="965" y1="376.8" x2="965" y2="369.5"/><line x1="977.3" y1="376.8" x2="977.3" y2="369.5"/><line x1="989.6" y1="376.8" x2="989.6" y2="369.5"/>
<line x1="927.7" y1="393.6" x2="927.7" y2="386.7"/><line x1="940" y1="393.6" x2="940" y2="386.7"/><line x1="952.6" y1="393.6" x2="952.6" y2="386.7"/><line x1="965" y1="393.6" x2="965" y2="386.7"/><line x1="977.3" y1="393.6" x2="977.3" y2="386.7"/><line x1="989.6" y1="393.6" x2="989.6" y2="386.7"/>
</g>
<line x1="918" y1="331" x2="925.6" y2="331" stroke="#111" stroke-width=".5"/>
<rect x="918" y="356.3" width="80.6" height="12.9" rx="5" fill="none" stroke="#333" stroke-width=".5" stroke-dasharray="1.5,1"/>
<use href="#tb" x="927.7" y="358"/><use href="#tb" x="940" y="358"/><use href="#tb" x="952.6" y="358"/><use href="#tb" x="965" y="358"/><use href="#tb" x="977.3" y="358"/><use href="#tb" x="989.6" y="358"/>
<rect x="828.8" y="356.3" width="67.2" height="12.9" rx="5" fill="none" stroke="#333" stroke-width=".5" stroke-dasharray="1.5,1"/>
<use href="#tg" x="841.5" y="358"/><use href="#tg" x="848.4" y="358"/><use href="#tg" x="855.3" y="358"/><use href="#tg" x="862.5" y="358"/><use href="#tg" x="869.4" y="358"/><use href="#tg" x="876.3" y="358"/><use href="#tg" x="883.5" y="358"/>
<g stroke="#111" stroke-width=".45" fill="none"><path d="M841.5,367.5Q842,381 912,381"/><path d="M848.4,367.5Q849,380 912,381"/><path d="M855.3,367.5Q856,379 912,381"/><path d="M862.5,367.5Q863,378 912,381"/><path d="M869.4,367.5Q871,377 912,381"/><path d="M876.3,367.5Q878,376 912,381"/><path d="M883.5,367.5Q886,375 912,381" marker-end="url(#ah)"/></g>
<rect x="913.6" y="376.8" width="91.4" height="9.6" rx="4.8" fill="#d6dce5" stroke="#333" stroke-width=".7"/>
<text x="959.5" y="384.3" font-size="7.4" fill="#222" text-anchor="middle">Cross Attention</text>
<text x="988" y="380" font-size="3" fill="#333">(×multi-layers)</text>
<g stroke-width=".4"><rect x="925.7" y="393.6" width="4" height="9" rx="2" fill="#70ad47" stroke="#3a6a20"/><rect x="938" y="393.6" width="4" height="9" rx="2" fill="#ffc000" stroke="#9a7000"/><rect x="950.6" y="393.6" width="4" height="9" rx="2" fill="#ed7d31" stroke="#9a4a10"/><rect x="963" y="393.6" width="4" height="9" rx="2" fill="#4472c4" stroke="#203a70"/><rect x="975.3" y="393.6" width="4" height="9" rx="2" fill="#44546a" stroke="#222"/><rect x="987.6" y="393.6" width="4" height="9" rx="2" fill="#c8960c" stroke="#7f5f00"/></g>

<!-- ===== FIGURE 3 ===== -->
<g font-size="10" fill="#222" text-anchor="middle"><text x="646" y="569">Reconstruction Loss</text><text x="644.6" y="741.5">masked patches</text><text x="826" y="534.5" font-size="9">image</text><text x="826" y="743" font-size="9">super-pixel</text><text x="951" y="743" font-size="9">super-patch</text></g>
<g font-size="8.5" fill="#222"><text x="909.7" y="561.5">mean</text><text x="957" y="563">KL Loss</text></g>
<g font-size="7" fill="#aaa"><text x="712" y="595">···</text><text x="712" y="711">···</text></g>
<use href="#tg12" x="571.6" y="587"/><use href="#tg12" x="590" y="587"/><use href="#tg12" x="608.6" y="587"/><use href="#tg12" x="626.9" y="587"/><use href="#tg12" x="645.3" y="587"/><use href="#tg12" x="663.6" y="587"/><use href="#tg12" x="681.9" y="587"/><use href="#tg12" x="700.2" y="587"/>
<g stroke="#111" stroke-width=".5" marker-end="url(#ah)" fill="none">
<line x1="571.6" y1="607.3" x2="571.6" y2="599.5"/><line x1="590" y1="607.3" x2="590" y2="599.5"/><line x1="608.6" y1="607.3" x2="608.6" y2="599.5"/><line x1="626.9" y1="607.3" x2="626.9" y2="599.5"/><line x1="645.3" y1="607.3" x2="645.3" y2="599.5"/><line x1="663.6" y1="607.3" x2="663.6" y2="599.5"/><line x1="681.9" y1="607.3" x2="681.9" y2="599.5"/><line x1="700.2" y1="607.3" x2="700.2" y2="599.5"/>
<line x1="608.6" y1="587" x2="608.6" y2="576"/><line x1="626.9" y1="587" x2="626.9" y2="576"/><line x1="645.3" y1="587" x2="645.3" y2="576"/><line x1="663.6" y1="587" x2="663.6" y2="576"/><line x1="681.9" y1="587" x2="681.9" y2="576"/>
<path d="M746.2,663V614H727.2"/>
<line x1="595" y1="667.6" x2="595" y2="658.5"/><line x1="613.7" y1="667.6" x2="613.7" y2="658.5"/><line x1="632" y1="667.6" x2="632" y2="658.5"/><line x1="650.7" y1="667.6" x2="650.7" y2="658.5"/><line x1="668.7" y1="667.6" x2="668.7" y2="658.5"/><line x1="686.7" y1="667.6" x2="686.7" y2="658.5"/>
<line x1="703" y1="674" x2="721.5" y2="674"/>
<line x1="571.6" y1="726" x2="571.6" y2="714.8"/><line x1="590" y1="726" x2="590" y2="714.8"/><line x1="700.2" y1="726" x2="700.2" y2="714.8"/>
<g stroke-dasharray="1.5,1.2"><line x1="608.6" y1="726" x2="608.6" y2="714.8"/><line x1="626.9" y1="726" x2="626.9" y2="714.8"/><line x1="645.3" y1="726" x2="645.3" y2="714.8"/><line x1="663.6" y1="726" x2="663.6" y2="714.8"/><line x1="681.9" y1="726" x2="681.9" y2="714.8"/></g>
</g>
<rect x="556.6" y="607.3" width="169.8" height="12.7" rx="6.3" fill="#bdd7ee" stroke="#222" stroke-width=".9"/>
<text x="641.5" y="617.2" font-size="10" fill="#222" text-anchor="middle">Reconstruction Layer</text>
<polygon points="559,622.8 727,622.8 697,642.8 596.6,642.8" fill="url(#gU)"/>
<use href="#tb12" x="595" y="646"/><use href="#tb12" x="613.7" y="646"/><use href="#tb12" x="632" y="646"/><use href="#tb12" x="650.7" y="646"/><use href="#tb12" x="668.7" y="646"/><use href="#tb12" x="686.7" y="646"/>
<rect x="581" y="667.6" width="122" height="12.6" rx="6.3" fill="#c5e0b4" stroke="#548235" stroke-width=".9"/>
<text x="642" y="677.6" font-size="10" fill="#222" text-anchor="middle">Semantic Group</text>
<rect x="721.9" y="663" width="49" height="20.6" rx="2" fill="#fff" stroke="#333" stroke-width=".6" stroke-dasharray="1.8,1.2"/>
<g font-size="7.2" fill="#222" text-anchor="middle"><text x="746.4" y="671.5">mapping</text><text x="746.4" y="680">matrix</text></g>
<polygon points="596.6,681.7 697,681.7 727,699 559,699" fill="url(#gD)"/>
<use href="#tg12" x="571.6" y="702.6"/><use href="#tg12" x="590" y="702.6"/><use href="#th12" x="608.6" y="702.6"/><use href="#th12" x="626.9" y="702.6"/><use href="#th12" x="645.3" y="702.6"/><use href="#th12" x="663.6" y="702.6"/><use href="#th12" x="681.9" y="702.6"/><use href="#tg12" x="700.2" y="702.6"/>

<!-- ===== FIGURE 4 ===== -->
<rect x="784" y="538.6" width="83.6" height="83.4" fill="url(#pl)"/>
<ellipse cx="822" cy="584" rx="30" ry="8" fill="#f2f2f2" transform="rotate(14 822 584)"/><rect x="800" y="596" width="20" height="26" fill="#3a3a3a"/><circle cx="847" cy="596" r="5" fill="#333"/>
<path d="M822,625.5h10v9h4.5l-9.5,8.5l-9.5,-8.5h4.5z" fill="#eee" stroke="#ddd" stroke-width=".5"/>
<rect x="784" y="645" width="83.6" height="83.5" fill="url(#pl)"/>
<ellipse cx="822" cy="690" rx="30" ry="8" fill="#f2f2f2" transform="rotate(14 822 690)"/><rect x="800" y="702" width="20" height="26" fill="#3a3a3a"/>
<g stroke="#ffe800" stroke-width=".7" fill="none"><path d="M790,683Q810,672 840,684T867,700M787,695Q820,690 866,712M800,702V728M820,702V728M845,690Q848,700 855,704M831,651Q828,660 838,668M850,649Q858,660 864,650M786,705L795,728M838,712H866"/></g>
<path d="M877.5,684h12v-4l9,7.75l-9,7.75v-4h-12z" fill="#eee" stroke="#ddd" stroke-width=".5"/>
<rect x="909.7" y="645" width="83.5" height="83.5" fill="url(#pl)"/>
<ellipse cx="946" cy="690" rx="30" ry="8" fill="#f2f2f2" transform="rotate(14 946 690)"/><rect x="925" y="702" width="20" height="26" fill="#3a3a3a"/>
<rect x="909.7" y="667" width="83.5" height="61.5" fill="url(#ygrid)"/><rect x="946" y="645" width="47" height="22" fill="url(#ygrid)"/>
<use href="#hist" transform="translate(920,539.5) scale(1.3,0.95)"/>
<line x1="941.6" y1="572.4" x2="941.6" y2="543" stroke="#111" stroke-width=".5" marker-end="url(#ah)"/>
<path d="M950.5,549Q955,558 950.5,567" stroke="#111" stroke-width=".5" fill="none" marker-end="url(#ah)"/>
<line x1="951" y1="552" x2="950.3" y2="549.3" stroke="#111" stroke-width=".5" marker-end="url(#ah)"/>
<rect x="907.6" y="575.4" width="90.7" height="42.2" rx="6" fill="none" stroke="#777" stroke-width=".5" stroke-dasharray="2,1.2"/>
<use href="#hist" transform="translate(910.5,591)"/><use href="#hist" transform="translate(953.5,591)"/><use href="#hist" transform="translate(910.5,607.5)"/>
<text x="970" y="606" font-size="6" fill="#333">···</text>
<g stroke="#333" stroke-width=".35" stroke-dasharray="2,1,.5,1"><line x1="919.6" y1="617.6" x2="946.6" y2="662.9"/><line x1="991.7" y1="617.6" x2="973.7" y2="667.3"/></g>
<rect x="932.5" y="614.7" width="46.3" height="19.3" rx="2" fill="#fff" stroke="#333" stroke-width=".6" stroke-dasharray="1.8,1.2"/>
<g font-size="7.2" fill="#222" text-anchor="middle"><text x="955.6" y="622.5">mapping</text><text x="955.6" y="631">matrix</text></g>

<!-- ===== FIGURES 5/6 ===== -->
<g>
<rect x="1054" y="605.5" width="53.3" height="53.5" fill="#9a6a3a"/><ellipse cx="1070" cy="635" rx="14" ry="20" fill="#b88850"/><ellipse cx="1095" cy="625" rx="12" ry="22" fill="#c49050"/>
<rect x="1112" y="605.5" width="53.2" height="53.5" fill="#3fae78"/><rect x="1112" y="605.5" width="10" height="12" fill="#2a3aa0"/>
<rect x="1169.8" y="605.5" width="53.3" height="53.5" fill="#45a874"/><rect x="1169.8" y="605.5" width="8" height="10" fill="#7a3080"/><rect x="1195" y="621" width="13" height="5" fill="#8a4a2a"/><rect x="1198" y="633" width="25" height="8" fill="#8a4a2a"/>
<rect x="1227.7" y="605.5" width="53.3" height="53.5" fill="#4aa87a"/><rect x="1228" y="633" width="25" height="5" fill="#8a4a2a"/><circle cx="1235" cy="630" r="3" fill="#a0602a"/><circle cx="1265" cy="648" r="3" fill="#a0602a"/>
<rect x="1054" y="664" width="53.3" height="53.5" fill="#c8c4c4"/><rect x="1058" y="675" width="49" height="32" fill="#7a6ab0"/><rect x="1058" y="705" width="49" height="6" fill="#444"/>
<rect x="1112" y="664" width="53.2" height="53.5" fill="#c8c4c4"/><rect x="1116" y="675" width="49" height="34" fill="#3ab0d0"/>
<rect x="1169.8" y="664" width="53.3" height="53.5" fill="#40b8d8"/><rect x="1196" y="668" width="16" height="8" fill="#8a7060"/><rect x="1195" y="690" width="9" height="6" fill="#8a4a2a"/>
<rect x="1227.7" y="664" width="53.3" height="53.5" fill="#c8c4c4"/><rect x="1231" y="675" width="50" height="34" fill="#40aacc"/><rect x="1255" y="690" width="9" height="6" fill="#8a4a2a"/>
<rect x="1054" y="722.4" width="53.3" height="53.4" fill="#8c9aa0"/><ellipse cx="1076" cy="752" rx="16" ry="18" fill="#e8eaea"/><rect x="1083" y="737" width="6" height="9" fill="#c8b040"/>
<rect x="1112" y="722.4" width="53.2" height="53.4" fill="#9aa4a6"/><ellipse cx="1134" cy="752" rx="16" ry="18" fill="#e8eaea"/><path d="M1138,735l6,12l-4,10l10,6" stroke="#3cb44b" stroke-width="3" fill="none"/>
<rect x="1169.8" y="722.4" width="53.3" height="53.4" fill="#3ec070"/><rect x="1172" y="725" width="49" height="48" fill="#48d088"/><ellipse cx="1190" cy="752" rx="6" ry="10" fill="#b0a4a4"/><rect x="1198" y="750" width="25" height="5" fill="#8a4a2a"/>
<rect x="1227.7" y="722.4" width="53.3" height="53.4" fill="#a0a8a8"/><ellipse cx="1249" cy="752" rx="16" ry="18" fill="#e8eaea"/><path d="M1254,728l4,14l-2,10" stroke="#4ac060" stroke-width="5" fill="none"/><rect x="1256" y="745" width="20" height="5" fill="#8a4a2a"/>
</g>
<g>
<rect x="1286.5" y="608.3" width="53.3" height="53" fill="#7a8a6a"/><rect x="1286.5" y="630" width="53.3" height="20" fill="#b83a3a"/><rect x="1286.5" y="650" width="53.3" height="11.3" fill="#333"/>
<rect x="1344" y="608.3" width="53.2" height="53" fill="#d0c840"/><rect x="1344" y="630" width="53.2" height="20" fill="#c0304a"/><rect x="1344" y="650" width="53.2" height="5" fill="#c020c0"/><rect x="1344" y="655" width="53.2" height="6.3" fill="#50d050"/>
<rect x="1402" y="608.3" width="53.3" height="53" fill="#a09060"/><rect x="1402" y="608.3" width="30" height="8" fill="#e0c840"/><rect x="1422" y="613" width="22" height="15" fill="#e04a3a"/><rect x="1402" y="630" width="53.3" height="20" fill="#b83a3a"/><rect x="1402" y="650" width="53.3" height="11.3" fill="#333"/>
<rect x="1459.4" y="608.3" width="53.3" height="53" fill="#8a9a6a"/><rect x="1470" y="610" width="30" height="15" fill="#d8cc40"/><rect x="1459.4" y="630" width="53.3" height="20" fill="#b03a50"/><rect x="1459.4" y="650" width="53.3" height="11.3" fill="#333"/>
<rect x="1286.5" y="666.2" width="53.3" height="53.1" fill="#a8a8a8"/><rect x="1286.5" y="666.2" width="53.3" height="12" fill="#5a4a3a"/><ellipse cx="1315" cy="697" rx="15" ry="12" fill="#3a3430"/>
<rect x="1344" y="666.2" width="53.2" height="53.1" fill="#40c040"/><rect x="1344" y="666.2" width="53.2" height="12" fill="#8a8070"/><rect x="1390" y="666.2" width="7.2" height="12" fill="#e04a10"/><ellipse cx="1370" cy="697" rx="15" ry="12" fill="#c8204a"/>
<rect x="1402" y="666.2" width="53.3" height="53.1" fill="#b0b0b0"/><rect x="1402" y="666.2" width="53.3" height="12" fill="#8a8070"/><ellipse cx="1428" cy="695" rx="16" ry="14" fill="#d02050"/>
<rect x="1459.4" y="666.2" width="53.3" height="53.1" fill="#48c048"/><rect x="1459.4" y="666.2" width="53.3" height="12" fill="#8a8070"/><ellipse cx="1484" cy="697" rx="16" ry="12" fill="#d02050"/>
<rect x="1286.5" y="724" width="53.3" height="53.4" fill="#3a3a30"/><path d="M1296,730l20,4l10,30l-30,10z" fill="#a05a30"/>
<rect x="1344" y="724" width="53.2" height="53.4" fill="#c0b020"/><rect x="1344" y="750" width="53.2" height="27.4" fill="#c020b0"/><path d="M1358,730l20,4l15,43h-45z" fill="#30c0a0"/>
<rect x="1402" y="724" width="53.3" height="53.4" fill="#c020c0"/><path d="M1416,730l20,4l18,43h-46z" fill="#38c0a0"/>
<rect x="1459.4" y="724" width="53.3" height="53.4" fill="#4a4a40"/><path d="M1473,730l20,4l20,43h-50z" fill="#40b8a0"/><rect x="1495" y="764" width="18" height="13" fill="#6a30c0"/>
</g>
</g>

<!-- QR -->
<g transform="translate(1412,844)" fill="#000">
<rect x="0" y="0" width="11" height="11"/><rect x="1.5" y="1.5" width="8" height="8" fill="#fff"/><rect x="3" y="3" width="5" height="5"/>
<rect x="26" y="0" width="11" height="11"/><rect x="27.5" y="1.5" width="8" height="8" fill="#fff"/><rect x="29" y="3" width="5" height="5"/>
<rect x="0" y="26" width="11" height="11"/><rect x="1.5" y="27.5" width="8" height="8" fill="#fff"/><rect x="3" y="29" width="5" height="5"/>
<rect x="13" y="0" width="3" height="3"/><rect x="18" y="1" width="4" height="2"/><rect x="13" y="5" width="5" height="2"/><rect x="20" y="4" width="3" height="4"/><rect x="14" y="9" width="2" height="3"/><rect x="18" y="9" width="5" height="2"/>
<rect x="0" y="13" width="4" height="2"/><rect x="5" y="12" width="3" height="4"/><rect x="10" y="13" width="6" height="2"/><rect x="18" y="13" width="3" height="5"/><rect x="23" y="12" width="5" height="2"/><rect x="30" y="13" width="7" height="2"/>
<rect x="1" y="17" width="6" height="2"/><rect x="9" y="16" width="3" height="5"/><rect x="14" y="17" width="3" height="3"/><rect x="22" y="16" width="4" height="4"/><rect x="28" y="17" width="3" height="6"/><rect x="33" y="17" width="4" height="3"/>
<rect x="0" y="21" width="3" height="3"/><rect x="5" y="22" width="6" height="2"/><rect x="13" y="22" width="7" height="2"/><rect x="21" y="22" width="3" height="4"/><rect x="32" y="22" width="5" height="2"/>
<rect x="13" y="26" width="3" height="5"/><rect x="18" y="27" width="5" height="2"/><rect x="25" y="26" width="6" height="2"/><rect x="33" y="26" width="4" height="4"/><rect x="18" y="31" width="3" height="6"/><rect x="23" y="30" width="5" height="5"/><rect x="24.5" y="31.5" width="2" height="2" fill="#fff"/><rect x="13" y="34" width="3" height="3"/><rect x="30" y="32" width="4" height="5"/><rect x="35" y="34" width="2" height="3"/>
</g>
</svg>
</div></body></html>
